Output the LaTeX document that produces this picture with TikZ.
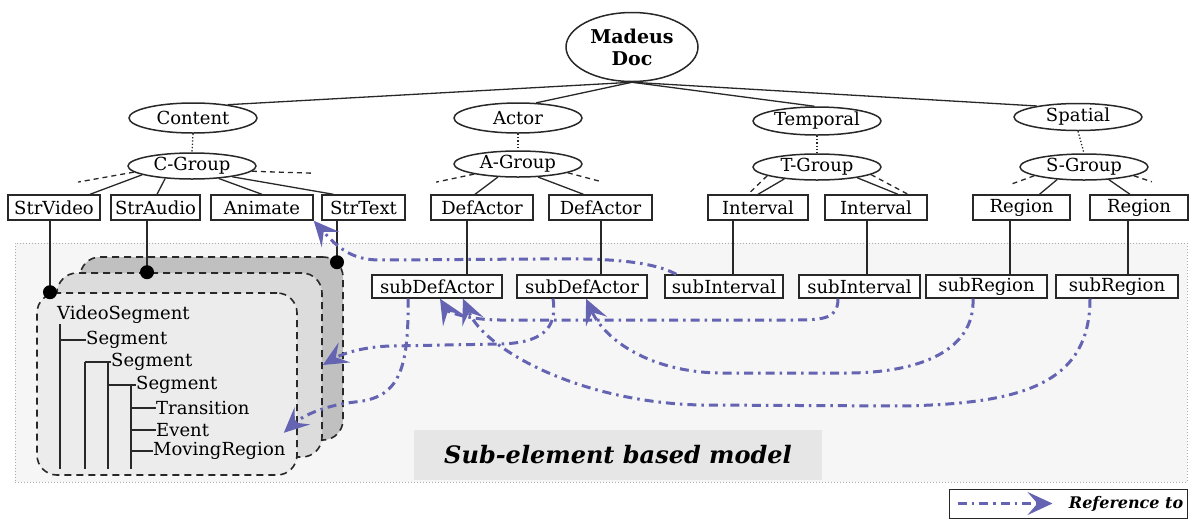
\documentclass[tikz,border=0pt]{standalone}
\usepackage{fontspec}
\setmainfont{DejaVu Serif}
\usetikzlibrary{shapes.geometric,arrows.meta,calc}
\definecolor{refblue}{RGB}{100,100,178}
\definecolor{linegray}{RGB}{40,40,40}
\definecolor{zonefill}{RGB}{246,246,246}
\definecolor{zoneline}{RGB}{170,170,170}
\definecolor{backfill}{RGB}{192,192,192}
\definecolor{midfill}{RGB}{220,220,220}
\definecolor{frontfill}{RGB}{236,236,236}
\definecolor{labfill}{RGB}{230,230,230}
\begin{document}
\begin{tikzpicture}[x=1pt,y=-1pt,
  lbl/.style={font=\fontsize{18}{20}\selectfont},
  tbox/.style={draw=linegray,line width=1.4pt,rectangle,minimum height=25pt,inner sep=0pt,fill=white,lbl},
  sbox/.style={tbox,minimum height=23pt},
  ovl/.style={draw=linegray,line width=1.5pt,ellipse,inner sep=0pt,minimum width=128pt,minimum height=30pt,fill=white,lbl},
  grp/.style={ovl,minimum height=26pt},
  solidcon/.style={draw=linegray,line width=1.3pt},
  dashcon/.style={draw=linegray,line width=1.3pt,dash pattern=on 5pt off 4pt},
  dotcon/.style={draw=linegray,line width=1.3pt,dotted},
  stackbox/.style={draw=linegray,line width=1.6pt,dash pattern=on 7pt off 5pt,rounded corners=20pt,inner sep=0pt},
  treetxt/.style={lbl,anchor=west,inner sep=0pt},
  treeline/.style={draw=linegray,line width=1.3pt},
  refarrow/.style={draw=refblue,line width=3pt,dash pattern=on 9pt off 5pt on 2.5pt off 5pt,-{Stealth[length=25pt,width=23pt,inset=10pt]}},
  blackdot/.style={fill=black}
]
\useasboundingbox (0,0) rectangle (1191,520);

% sub-element zone
\node[draw=zoneline,fill=zonefill,dotted,line width=1pt,minimum width=1172pt,minimum height=239pt,inner sep=0pt] (zone) at (601,362.5) {};
\node[fill=labfill,minimum width=408pt,minimum height=50pt,inner sep=0pt,font=\fontsize{24}{28}\selectfont\bfseries\itshape] (sublbl) at (618,455) {Sub-element based model};

% legend
\node[draw=linegray,line width=1pt,minimum width=238pt,minimum height=29pt,inner sep=0pt] (legend) at (1068,503.5) {};
\coordinate (lgA) at ($(legend.west)+(9,0)$);
\coordinate (lgB) at ($(legend.west)+(104,0)$);
\draw[refarrow] (lgA) -- (lgB);
\node[anchor=east,inner sep=0pt,font=\fontsize{16}{18}\selectfont\bfseries\itshape] (lgtxt) at ($(legend.east)+(-4,0)$) {Reference to};

% stacked segment boxes
\node[stackbox,fill=backfill,minimum width=263pt,minimum height=183pt] (back) at (211.5,348.5) {};
\node[stackbox,fill=midfill,minimum width=265pt,minimum height=184pt] (mid) at (189.5,365) {};
\node[stackbox,fill=frontfill,minimum width=260pt,minimum height=182pt] (front) at (167,384) {};

% tree inside front box
\node[treetxt] (vs) at (57,315) {VideoSegment};
\node[treetxt] (sg1) at (86,340) {Segment};
\node[treetxt] (sg2) at (111,362) {Segment};
\node[treetxt] (sg3) at (136,385) {Segment};
\node[treetxt] (tr) at (156,408) {Transition};
\node[treetxt] (ev) at (156,430) {Event};
\node[treetxt] (mr) at (153,451) {MovingRegion};
\coordinate (tb) at ($(front.south)+(0,-7)$);
\draw[treeline] ([xshift=3pt]vs.south west) -- ([xshift=3pt]vs.south west |- tb);
\draw[treeline] ([xshift=3pt]vs.south west |- sg1.west) -- (sg1.west);
\draw[treeline] ([xshift=-1pt]sg1.west |- sg2.west) -- (sg2.west);
\draw[treeline] ([xshift=-1pt]sg1.west |- sg2.west) -- ([xshift=-1pt]sg1.west |- tb);
\draw[treeline] ([xshift=-3pt]sg2.west) -- ([xshift=-3pt]sg2.west |- tb);
\draw[treeline] ([xshift=-3pt]sg2.west |- sg3.west) -- (sg3.west);
\draw[treeline] ([xshift=-5pt]sg3.west) -- ([xshift=-5pt]sg3.west |- tb);
\draw[treeline] ([xshift=-5pt]sg3.west |- tr.west) -- (tr.west);
\draw[treeline] ([xshift=-5pt]sg3.west |- ev.west) -- (ev.west);
\draw[treeline] ([xshift=-5pt]sg3.west |- mr.west) -- (mr.west);

% top level
\node[ovl,minimum width=132pt,minimum height=69pt,font=\fontsize{19}{22}\selectfont\bfseries,align=center] (doc) at (632,47) {Madeus\\Doc};
\node[ovl] (content) at (193,118) {Content};
\node[ovl] (actor) at (518,118) {Actor};
\node[ovl,minimum height=28pt] (temporal) at (817,121) {Temporal};
\node[ovl,minimum height=27pt] (spatial) at (1078,117) {Spatial};
\node[grp] (cg) at (192,166) {C-Group};
\node[grp] (ag) at (518,164) {A-Group};
\node[grp] (tg) at (817,167) {T-Group};
\node[grp] (sg) at (1084,167) {S-Group};

\draw[solidcon] (doc.south) -- (content.21);
\draw[solidcon] (doc.south) -- (actor.40);
\draw[solidcon] (doc.south) -- (temporal.100);
\draw[solidcon] (doc.south) -- (spatial.165);
\draw[dotcon] (content.south) -- (cg.north);
\draw[dotcon] (actor.south) -- (ag.north);
\draw[dotcon] (temporal.south) -- (tg.north);
\draw[dotcon] (spatial.south) -- (sg.north);

% element boxes
\node[tbox,minimum width=92pt] (strvideo) at (54,207.5) {StrVideo};
\node[tbox,minimum width=89pt] (straudio) at (155.5,207.5) {StrAudio};
\node[tbox,minimum width=102pt] (animate) at (262,207.5) {Animate};
\node[tbox,minimum width=83pt] (strtext) at (363.5,207.5) {StrText};
\node[tbox,minimum width=102pt] (da1) at (482,207.5) {DefActor};
\node[tbox,minimum width=103pt] (da2) at (600.5,207.5) {DefActor};
\node[tbox,minimum width=100pt] (i1) at (758,207.5) {Interval};
\node[tbox,minimum width=102pt] (i2) at (876,207.5) {Interval};
\node[tbox,minimum width=97pt] (r1) at (1021.5,207.5) {Region};
\node[tbox,minimum width=98pt] (r2) at (1139,207.5) {Region};

% sub boxes
\node[sbox,minimum width=130pt] (sda1) at (437,286.5) {subDefActor};
\node[sbox,minimum width=130pt] (sda2) at (582,286.5) {subDefActor};
\node[sbox,minimum width=118pt] (si1) at (724,286.5) {subInterval};
\node[sbox,minimum width=121pt] (si2) at (859.5,286.5) {subInterval};
\node[sbox,minimum width=121pt] (sr1) at (986.5,286.5) {subRegion};
\node[sbox,minimum width=122pt] (sr2) at (1117,286.5) {subRegion};

% group edges
\draw[solidcon] (cg.190) -- ([xshift=36pt]strvideo.north);
\draw[solidcon] (cg.205) -- ([xshift=1.5pt]straudio.north);
\draw[solidcon] (cg.335) -- (animate.north);
\draw[solidcon] (cg.345) -- ([xshift=-30pt]strtext.north);
\draw[dashcon] (cg.186) -- ++(-56,10);
\draw[dashcon] (cg.355) -- ++(62,2);
\draw[solidcon] (ag.213) -- ([xshift=-7pt]da1.north);
\draw[solidcon] (ag.327) -- ([xshift=-17pt]da2.north);
\draw[dashcon] (ag.193) -- ++(-38,8);
\draw[dashcon] (ag.350) -- ++(34,9);
\draw[solidcon] (tg.200) -- (i1.north);
\draw[solidcon] (tg.345) -- ([xshift=22pt]i2.north);
\draw[dashcon] (tg.190) -- ([xshift=-10pt]i1.north);
\draw[dashcon] (tg.352) -- ([xshift=32pt]i2.north);
\draw[solidcon] (sg.205) -- ([xshift=18pt]r1.north);
\draw[solidcon] (sg.333) -- ([xshift=-9pt]r2.north);
\draw[dashcon] (sg.190) -- ++(-22,8);
\draw[dashcon] (sg.350) -- ++(18,6);

% element -> sub element
\draw[solidcon] ([xshift=-15pt]da1.south) -- ([xshift=-15pt]da1.south |- sda1.north);
\draw[solidcon] ([xshift=0.5pt]da2.south) -- ([xshift=0.5pt]da2.south |- sda2.north);
\draw[solidcon] ([xshift=-25pt]i1.south) -- ([xshift=-25pt]i1.south |- si1.north);
\draw[solidcon] ([xshift=-9pt]i2.south) -- ([xshift=-9pt]i2.south |- si2.north);
\draw[solidcon] ([xshift=-11.5pt]r1.south) -- ([xshift=-11.5pt]r1.south |- sr1.north);
\draw[solidcon] ([xshift=-11pt]r2.south) -- ([xshift=-11pt]r2.south |- sr2.north);

% content -> segment layers
\coordinate (dv) at ([xshift=-4pt]strvideo.south |- front.north);
\coordinate (da) at ([xshift=-8.5pt]straudio.south |- mid.north);
\coordinate (dt) at ($([xshift=-26.5pt]strtext.south |- back.north)+(0,6)$);
\draw[solidcon] ([xshift=-4pt]strvideo.south) -- (dv);
\draw[solidcon] ([xshift=-8.5pt]straudio.south) -- (da);
\draw[solidcon] ([xshift=-26.5pt]strtext.south) -- (dt);
\fill[blackdot] (dv) circle (7pt);
\fill[blackdot] (da) circle (7pt);
\fill[blackdot] (dt) circle (7pt);

% reference arrows
\coordinate (ftip) at ($(front.south east)+(-14,-43)$);
\draw[refarrow] ([xshift=12pt]si1.north west) .. controls (650,260) and (600,258) .. (540,259) -- (380,260) .. controls (352,260) and (338,248) .. (animate.south east);
\draw[refarrow] ([xshift=-21.5pt]si2.south) .. controls (838,318) and (825,320) .. (795,320) -- (500,320) .. controls (470,320) and (448,312) .. ([xshift=3pt]sda1.south);
\draw[refarrow] ([xshift=-13.5pt]sr1.south) .. controls (975,345) and (930,372) .. (850,373) -- (720,373) .. controls (650,372) and (605,340) .. ([xshift=4pt]sda2.south);
\draw[refarrow] ([xshift=-27pt]sr2.south) .. controls (1090,385) and (1020,404) .. (900,406) -- (700,405) .. controls (580,402) and (485,350) .. ([xshift=26pt]sda1.south);
\draw[refarrow] ([xshift=-29pt]sda2.south) .. controls (558,330) and (540,343) .. (500,344) -- (390,346) .. controls (360,347) and (340,355) .. (mid.east);
\draw[refarrow] ([xshift=-29pt]sda1.south) .. controls (409,372) and (398,398) .. (355,402) .. controls (320,406) and (300,418) .. (ftip);
\end{tikzpicture}
\end{document}
